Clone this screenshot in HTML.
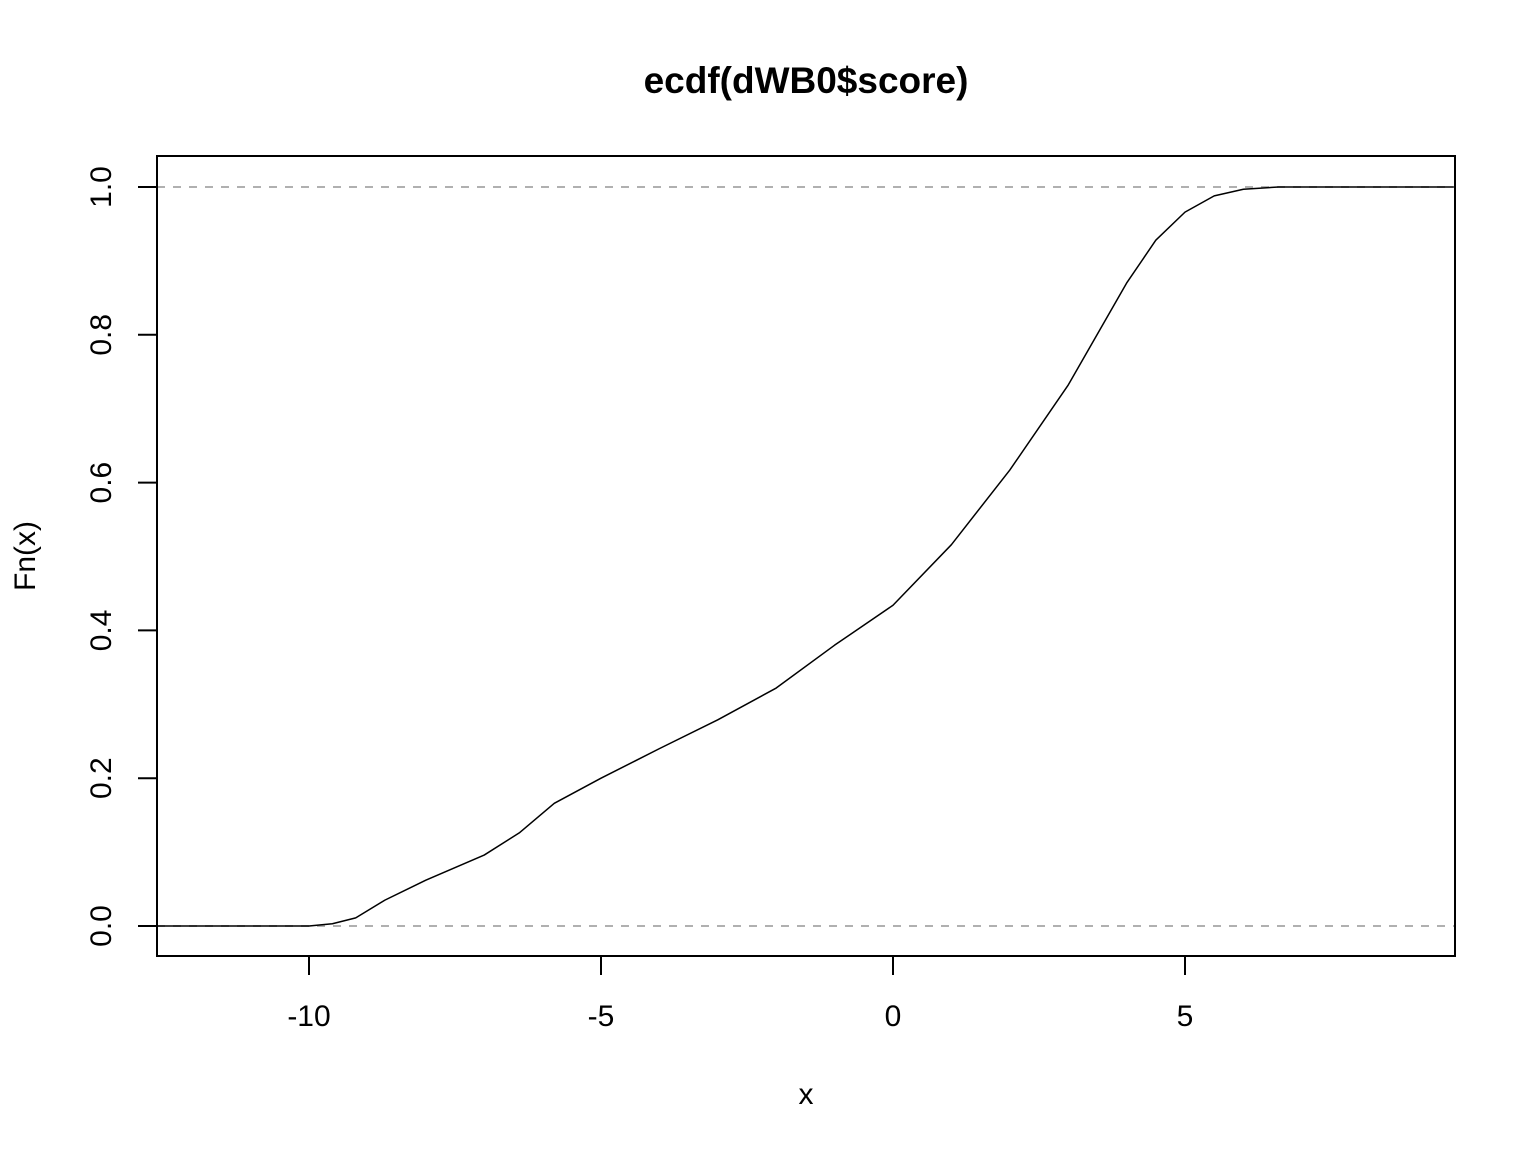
<!DOCTYPE html>
<html><head><meta charset="utf-8"><style>
body{margin:0;background:#fff}
svg text{font-family:"Liberation Sans",Arial,sans-serif;fill:#000}
</style></head><body>
<svg id="chart" width="1536" height="1152" xmlns="http://www.w3.org/2000/svg">
<text x="806" y="93" font-size="37" font-weight="bold" text-anchor="middle">ecdf(dWB0$score)</text>
<text x="806" y="1104" font-size="30" text-anchor="middle">x</text>
<text transform="translate(35,556) rotate(-90)" font-size="30" text-anchor="middle">Fn(x)</text>
<g id="axes"></g>
<rect x="157" y="156" width="1298" height="800" fill="none" stroke="#000" stroke-width="2"/>
</svg>
<script>
const xs=[-12.6,-10,-9.6,-9.2,-8.7,-8,-7,-6.4,-5.8,-5,-4,-3,-2,-1,0,1,2,3,4,4.5,5,5.5,6,6.6,9.6];
const ys=[0,0,0.003,0.011,0.035,0.062,0.096,0.126,0.166,0.2,0.24,0.279,0.322,0.38,0.434,0.516,0.617,0.732,0.87,0.928,0.966,0.988,0.997,1,1];
const xTicks=[-10,-5,0,5];
const xTickLabels=["-10","-5","0","5"];
const yTicks=[0,0.2,0.4,0.6,0.8,1.0];
const yTickLabels=["0.0","0.2","0.4","0.6","0.8","1.0"];
const X=v=>893+v*58.4, Y=v=>926-v*739;
const NS="http://www.w3.org/2000/svg";
const g=document.getElementById('axes');
function mk(t,a){const e=document.createElementNS(NS,t);for(const k in a)e.setAttribute(k,a[k]);g.appendChild(e);return e;}
[0,1].forEach(v=>{
 const l=mk('line',{x1:157,x2:1455,y1:Y(v),y2:Y(v),stroke:'#b0b0b0','stroke-width':2,'stroke-dasharray':'8,8'});
 
 
});
xTicks.forEach((v,i)=>{
 const l=mk('line',{x1:X(v),x2:X(v),y1:956,y2:975,stroke:'#000','stroke-width':2});
 
 
 const t=mk('text',{x:X(v),y:1026,'font-size':30,'text-anchor':'middle'});t.textContent=xTickLabels[i];
 
 
});
yTicks.forEach((v,i)=>{
 const l=mk('line',{x1:138,x2:157,y1:Y(v),y2:Y(v),stroke:'#000','stroke-width':2});
 
 
 const t=mk('text',{transform:`translate(111,${Y(v)}) rotate(-90)`,'font-size':30,'text-anchor':'middle'});t.textContent=yTickLabels[i];
 
 
});
const p=mk('path',{d:xs.map((v,i)=>(i?'L':'M')+X(v)+','+Y(ys[i])).join(' '),fill:'none',stroke:'#000','stroke-width':1.5,'stroke-linejoin':'round'});


</script>
</body></html>
